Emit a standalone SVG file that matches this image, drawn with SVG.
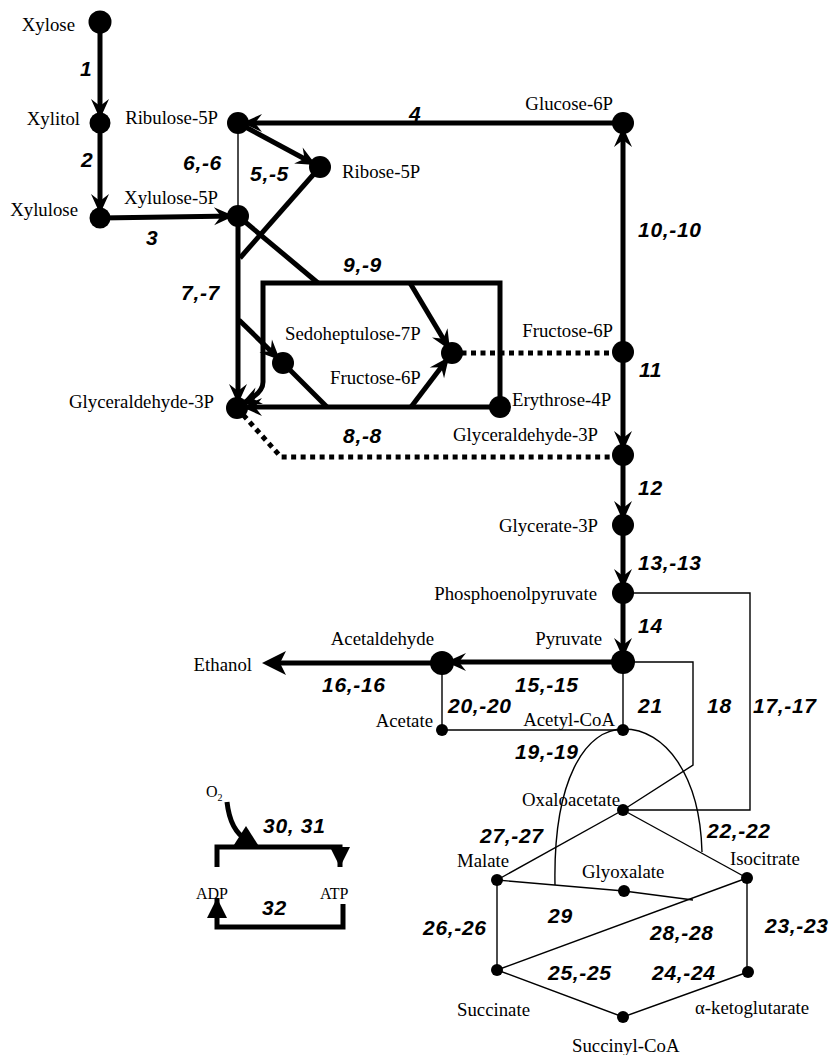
<svg xmlns="http://www.w3.org/2000/svg" width="830" height="1055" viewBox="0 0 830 1055">
<defs>
<style>
.thick{fill:none;stroke:#000;stroke-width:5}
.thin{fill:none;stroke:#000;stroke-width:1.4}
.dot{fill:none;stroke:#000;stroke-width:5;stroke-dasharray:5 4.5}
.a{marker-end:url(#arr)}
.t{marker-end:url(#tri)}
.lbl{font-family:"Liberation Serif","Times New Roman",serif;font-size:18.8px;fill:#000}
.sm{font-size:16px}
.num{font-family:"Liberation Sans",Arial,sans-serif;font-size:21px;font-weight:bold;font-style:italic;letter-spacing:0.7px;fill:#000}
.n{fill:#000}
</style>
<marker id="arr" viewBox="-22 -11 24 22" markerWidth="24" markerHeight="22" refX="0" refY="0" orient="auto" markerUnits="userSpaceOnUse">
<path d="M0,0 L-20,-9 L-13,0 L-20,9 Z" fill="#000"/>
</marker>
<marker id="big" viewBox="-10 -14 32 28" markerWidth="32" markerHeight="28" refX="0" refY="0" orient="auto" markerUnits="userSpaceOnUse">
<path d="M18,0 L-6,-12 L0,0 L-6,12 Z" fill="#000"/>
</marker>
<marker id="tri" viewBox="-22 -11 24 22" markerWidth="24" markerHeight="22" refX="0" refY="0" orient="auto" markerUnits="userSpaceOnUse">
<path d="M0,0 L-20,-10 L-20,10 Z" fill="#000"/>
</marker>
</defs>
<rect width="830" height="1055" fill="#fff"/>

<g id="connectors">
<path class="thick a" d="M100,22 V119"/>
<path class="thick a" d="M100,123 V214"/>
<path class="thick a" d="M100,218 L234,216"/>
<path class="thick a" d="M623,123 H242"/>
<path class="thick a" d="M238,123 L316,165"/>
<path class="thick" d="M320,167 L240,258"/>
<path class="thin" d="M238,123 V216"/>
<path class="thick a" d="M238,216 V404"/>
<path class="thick" d="M238,216 L318,283"/>
<path class="thick a" d="M500,407 V283 H263 V382 Q263,394 241,404"/>
<path class="thick a" d="M239,320 L280,360"/>
<path class="thick" d="M283,363 L327,407"/>
<path class="thick a" d="M500,407 H242"/>
<path class="thick a" d="M411,407 L449,357"/>
<path class="thick a" d="M410,283 L450,350"/>
<path class="dot" d="M452,353 H623"/>
<path class="dot" d="M237,408 L281,457 H623"/>
<path class="thick a" d="M623,352 V127"/>
<path class="thick a" d="M623,352 V451"/>
<path class="thick a" d="M623,455 V521"/>
<path class="thick a" d="M623,525 V589"/>
<path class="thick a" d="M623,593 V658"/>
<path class="thick a" d="M623,662 H446"/>
<path class="thick" d="M442,663 H280" marker-end="url(#big)"/>
<path class="thin" d="M442,663 V730 H623"/>
<path class="thin" d="M623,662 V730"/>
<path class="thin" d="M623,662 H693 V765 L623,810"/>
<path class="thin" d="M623,593 H750 V810 H623"/>
<path class="thin" d="M555,885 C553,780 585,729 624,729 C665,729 700,775 702,852"/>
<path class="thin" d="M623,810 L497,880"/>
<path class="thin" d="M623,810 L747,878"/>
<path class="thin" d="M497,880 L624,891 L693,900"/>
<path class="thin" d="M747,878 L497,970"/>
<path class="thin" d="M497,880 V970"/>
<path class="thin" d="M747,878 V972"/>
<path class="thin" d="M748,972 L623,1017 L497,970"/>
<path class="thick t" d="M217,867 V847 H340 V867"/>
<path class="thick" d="M227,802 C229,820 236,834 247,840"/>
<polygon points="232,848 246,826 260,848" fill="#000"/>
<path class="thick t" d="M343,904 V927 H217 V898"/>
</g>

<g id="reaction-labels" class="num">
<text x="80" y="76">1</text>
<text x="81" y="167">2</text>
<text x="146" y="245">3</text>
<text x="409" y="121">4</text>
<text x="250" y="181">5,-5</text>
<text x="183" y="170">6,-6</text>
<text x="181" y="300">7,-7</text>
<text x="343" y="443">8,-8</text>
<text x="343" y="272">9,-9</text>
<text x="638" y="237">10,-10</text>
<text x="639" y="377">11</text>
<text x="638" y="495">12</text>
<text x="638" y="570">13,-13</text>
<text x="638" y="633">14</text>
<text x="515" y="692">15,-15</text>
<text x="322" y="692">16,-16</text>
<text x="753" y="713">17,-17</text>
<text x="707" y="713">18</text>
<text x="515" y="759">19,-19</text>
<text x="448" y="713">20,-20</text>
<text x="638" y="713">21</text>
<text x="707" y="838">22,-22</text>
<text x="765" y="933">23,-23</text>
<text x="652" y="980">24,-24</text>
<text x="548" y="980">25,-25</text>
<text x="423" y="935">26,-26</text>
<text x="480" y="843">27,-27</text>
<text x="650" y="940">28,-28</text>
<text x="548" y="923">29</text>
<text x="263" y="833">30, 31</text>
<text x="262" y="915">32</text>
</g>

<g id="node-xylose"><circle class="n" cx="100" cy="22" r="11.5"/><text class="lbl" x="75" y="31" text-anchor="end">Xylose</text></g>
<g id="node-xylitol"><circle class="n" cx="100" cy="123" r="10.5"/><text class="lbl" x="80" y="125" text-anchor="end">Xylitol</text></g>
<g id="node-xylulose"><circle class="n" cx="100" cy="218" r="10.5"/><text class="lbl" x="78" y="216" text-anchor="end">Xylulose</text></g>
<g id="node-ribulose5p"><circle class="n" cx="238" cy="123" r="11"/><text class="lbl" x="218" y="124" text-anchor="end">Ribulose-5P</text></g>
<g id="node-ribose5p"><circle class="n" cx="320" cy="167" r="11"/><text class="lbl" x="342" y="178">Ribose-5P</text></g>
<g id="node-xylulose5p"><circle class="n" cx="238" cy="216" r="11"/><text class="lbl" x="218" y="204" text-anchor="end">Xylulose-5P</text></g>
<g id="node-glucose6p"><circle class="n" cx="623" cy="123" r="11"/><text class="lbl" x="613" y="110" text-anchor="end">Glucose-6P</text></g>
<g id="node-fructose6p"><circle class="n" cx="623" cy="352" r="11"/><text class="lbl" x="613" y="337" text-anchor="end">Fructose-6P</text></g>
<g id="node-sedoheptulose7p"><circle class="n" cx="283" cy="363" r="11"/><text class="lbl" x="285" y="340">Sedoheptulose-7P</text></g>
<g id="node-fructose6p-tk"><circle class="n" cx="452" cy="353" r="11"/><text class="lbl" x="330" y="384">Fructose-6P</text></g>
<g id="node-erythrose4p"><circle class="n" cx="500" cy="407" r="11"/><text class="lbl" x="512" y="406">Erythrose-4P</text></g>
<g id="node-g3p-ppp"><circle class="n" cx="237" cy="408" r="11"/><text class="lbl" x="214" y="408" text-anchor="end">Glyceraldehyde-3P</text></g>
<g id="node-g3p"><circle class="n" cx="623" cy="455" r="11"/><text class="lbl" x="598" y="441" text-anchor="end">Glyceraldehyde-3P</text></g>
<g id="node-glycerate3p"><circle class="n" cx="623" cy="525" r="11"/><text class="lbl" x="598" y="532" text-anchor="end">Glycerate-3P</text></g>
<g id="node-pep"><circle class="n" cx="623" cy="593" r="11"/><text class="lbl" x="597" y="600" text-anchor="end">Phosphoenolpyruvate</text></g>
<g id="node-pyruvate"><circle class="n" cx="623" cy="662" r="12"/><text class="lbl" x="602" y="645" text-anchor="end">Pyruvate</text></g>
<g id="node-acetaldehyde"><circle class="n" cx="442" cy="663" r="12"/><text class="lbl" x="434" y="645" text-anchor="end">Acetaldehyde</text></g>
<g id="node-ethanol"><text class="lbl" x="252" y="671" text-anchor="end">Ethanol</text></g>
<g id="node-acetate"><circle class="n" cx="442" cy="730" r="6"/><text class="lbl" x="433" y="727" text-anchor="end">Acetate</text></g>
<g id="node-acetylcoa"><circle class="n" cx="623" cy="730" r="6"/><text class="lbl" x="615" y="726" text-anchor="end">Acetyl-CoA</text></g>
<g id="node-oxaloacetate"><circle class="n" cx="623" cy="810" r="6"/><text class="lbl" x="522" y="806">Oxaloacetate</text></g>
<g id="node-malate"><circle class="n" cx="497" cy="880" r="6"/><text class="lbl" x="457" y="867">Malate</text></g>
<g id="node-glyoxalate"><circle class="n" cx="624" cy="891" r="6"/><text class="lbl" x="582" y="878">Glyoxalate</text></g>
<g id="node-isocitrate"><circle class="n" cx="747" cy="878" r="6"/><text class="lbl" x="730" y="865">Isocitrate</text></g>
<g id="node-succinate"><circle class="n" cx="497" cy="970" r="6"/><text class="lbl" x="457" y="1016">Succinate</text></g>
<g id="node-succinylcoa"><circle class="n" cx="623" cy="1017" r="6"/><text class="lbl" x="572" y="1052">Succinyl-CoA</text></g>
<g id="node-akg"><circle class="n" cx="748" cy="972" r="6"/><text class="lbl" x="695" y="1014">α-ketoglutarate</text></g>
<g id="node-o2"><text class="lbl sm" x="206" y="797">O<tspan font-size="10" dy="4">2</tspan></text></g>
<g id="node-adp"><text class="lbl sm" x="196" y="899">ADP</text></g>
<g id="node-atp"><text class="lbl sm" x="320" y="899">ATP</text></g>
</svg>
